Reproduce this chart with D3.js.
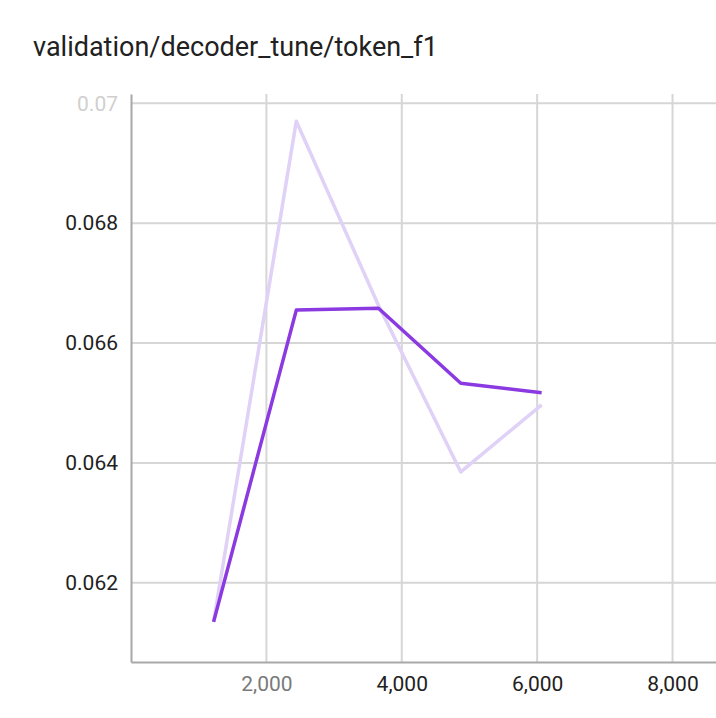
<!DOCTYPE html>
<html>
<head>
<meta charset="utf-8">
<script src="https://cdn.jsdelivr.net/npm/d3@7"></script>
<style>
  html, body { margin: 0; padding: 0; background: #fff; }
  svg { display: block; font-family: Roboto, "Noto Sans", sans-serif; }
</style>
</head>
<body>
<svg id="chart" width="716" height="718"></svg>
<script>
// steps and values
var steps = [1220, 2442, 3655, 4872, 6066];
var rawValues = [0.06135, 0.06970, 0.06663, 0.06385, 0.06497];
var smoothValues = [0.06135, 0.06655, 0.06658, 0.06533, 0.06517];
var xTicks = [2000, 4000, 6000, 8000];
var yTicks = [0.062, 0.064, 0.066, 0.068, 0.07];
var title = "validation/decoder_tune/token_f1";

var svg = d3.select("#chart");

var x = d3.scaleLinear().domain([0, 8642]).range([131, 716]);
var y = d3.scaleLinear().domain([0.06068, 0.070155]).range([662, 94]);

svg.append("text")
  .attr("x", 33).attr("y", 56)
  .attr("font-size", 27)
  .attr("fill", "#212121")
  .text(title);

// grid
svg.append("g").selectAll("line").data(yTicks).join("line")
  .attr("x1", 131).attr("x2", 716)
  .attr("y1", d => y(d)).attr("y2", d => y(d))
  .attr("stroke", "#d6d6d6").attr("stroke-width", 2);
svg.append("g").selectAll("line").data(xTicks).join("line")
  .attr("x1", d => x(d)).attr("x2", d => x(d))
  .attr("y1", 94).attr("y2", 662)
  .attr("stroke", "#d6d6d6").attr("stroke-width", 2);

// axes
var yAxis = svg.append("g").attr("transform", "translate(131,0)")
  .call(d3.axisLeft(y).tickValues(yTicks).tickSize(0).tickPadding(13)
    .tickFormat(d => d3.format("")(+d.toFixed(3))));
var xAxis = svg.append("g").attr("transform", "translate(0,662)")
  .call(d3.axisBottom(x).tickValues(xTicks).tickSize(0).tickPadding(14)
    .tickFormat(d3.format(",")));

[yAxis, xAxis].forEach(function(a) {
  a.select(".domain").attr("stroke", "#a8a8a8").attr("stroke-width", 2);
  a.selectAll("text").attr("font-size", 21).attr("fill", "#212121")
    .attr("font-family", "Roboto, 'Noto Sans', sans-serif");
});
yAxis.selectAll(".tick text").filter(d => d === 0.07).attr("fill", "#cfcfcf");
xAxis.selectAll(".tick text").filter(d => d === 2000).attr("fill", "#7a7a7a");

var line = d3.line().x(d => x(d[0])).y(d => y(d[1]));

svg.append("path")
  .datum(d3.zip(steps, rawValues))
  .attr("d", line)
  .attr("fill", "none")
  .attr("stroke", "#e0d1f6")
  .attr("stroke-width", 3.5)
  .attr("stroke-linejoin", "round");

svg.append("path")
  .datum(d3.zip(steps, smoothValues))
  .attr("d", line)
  .attr("fill", "none")
  .attr("stroke", "#8b3ae1")
  .attr("stroke-width", 3.5)
  .attr("stroke-linejoin", "round");
</script>
</body>
</html>
